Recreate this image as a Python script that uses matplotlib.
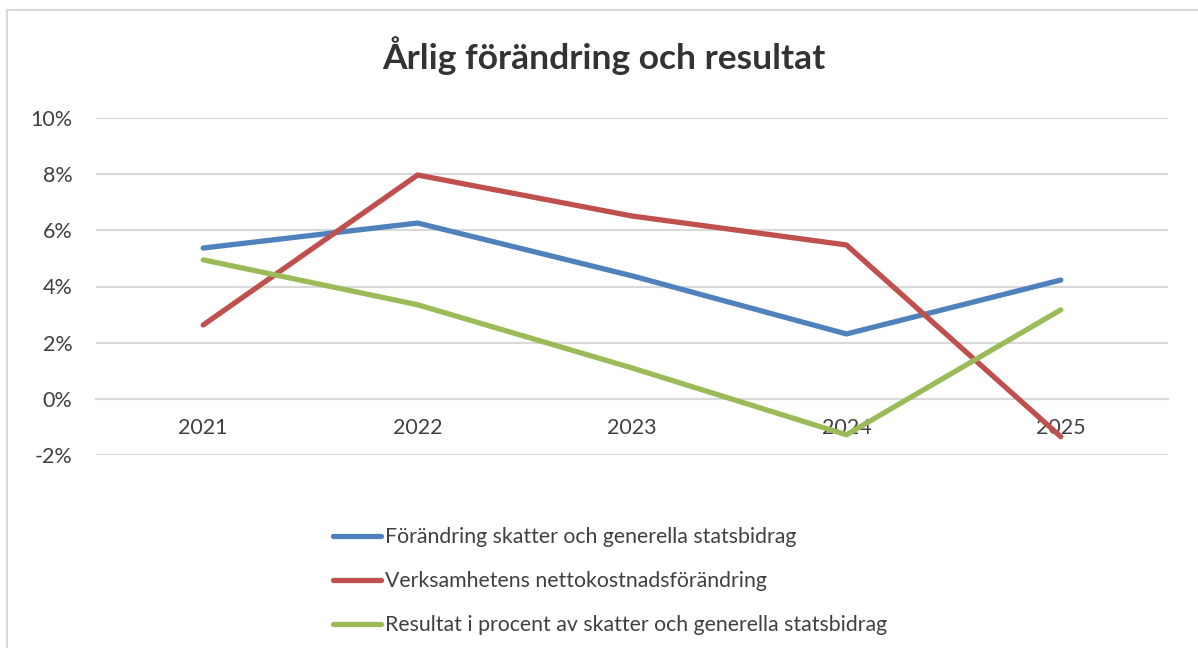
import matplotlib
matplotlib.use("Agg")
import matplotlib.pyplot as plt
from matplotlib.lines import Line2D
from matplotlib.ticker import FuncFormatter

# Data (percent)
years = ["2021", "2022", "2023", "2024", "2025"]
skatter = [5.37, 6.26, 4.38, 2.31, 4.23]
nettokostnad = [2.63, 7.97, 6.51, 5.48, -1.35]
resultat = [4.95, 3.35, 1.10, -1.28, 3.17]

labels = [
    "Förändring skatter och generella statsbidrag",
    "Verksamhetens nettokostnadsförändring",
    "Resultat i procent av skatter och generella statsbidrag",
]
colors = ["#4F81BD", "#C0504D", "#9BBB59"]

plt.rcParams['font.family'] = ['Lato', 'DejaVu Sans']

fig = plt.figure(figsize=(11.98, 6.48), dpi=100)
ax = fig.add_axes([96 / 1198, 1 - 455 / 648, (1168 - 96) / 1198, (455 - 118) / 648])

x = list(range(len(years)))
for serie, col, lab in zip([skatter, nettokostnad, resultat], colors, labels):
    ax.plot(x, serie, color=col, linewidth=3.8, label=lab, solid_capstyle='round',
            solid_joinstyle='round', zorder=3)

# Axes setup, Excel style
ax.set_xlim(-0.5, len(years) - 0.5)
ax.set_ylim(-2, 10)
ax.set_yticks(range(-2, 11, 2))
ax.yaxis.set_major_formatter(FuncFormatter(lambda v, p: f"{v:.0f}%"))
ax.set_xticks(x)
ax.set_xticklabels(years)
ax.grid(axis='y', color='#D9D9D9', linewidth=1.5)
ax.set_axisbelow(True)
for side in ['top', 'right', 'left']:
    ax.spines[side].set_visible(False)
ax.spines['bottom'].set_position(('data', 0))
ax.spines['bottom'].set_color('#D9D9D9')
ax.spines['bottom'].set_linewidth(1.5)
ax.tick_params(axis='y', length=0, pad=17, labelsize=15.5, labelcolor='#404040')
ax.tick_params(axis='x', length=0, pad=14, labelsize=15.5, labelcolor='#404040')

fig.text(0.504, 0.915, "Årlig förändring och resultat", ha='center', va='center',
         fontsize=25.5, fontweight='bold', color='#333333')

leg = fig.legend(loc='upper left', bbox_to_anchor=(333 / 1198, 1 - 527 / 648),
                 frameon=False, fontsize=15.3, handlelength=2.26, handletextpad=0.2,
                 labelspacing=1.14, borderpad=0, borderaxespad=0)
for t in leg.get_texts():
    t.set_color('#404040')

# chart frame
fig.add_artist(Line2D([7 / 1198, 7 / 1198], [0, 1 - 10 / 648], color='#D9D9D9', linewidth=1.5))
fig.add_artist(Line2D([7 / 1198, 1], [1 - 10 / 648, 1 - 10 / 648], color='#D9D9D9', linewidth=1.5))

fig.savefig("out.png", dpi=100)
